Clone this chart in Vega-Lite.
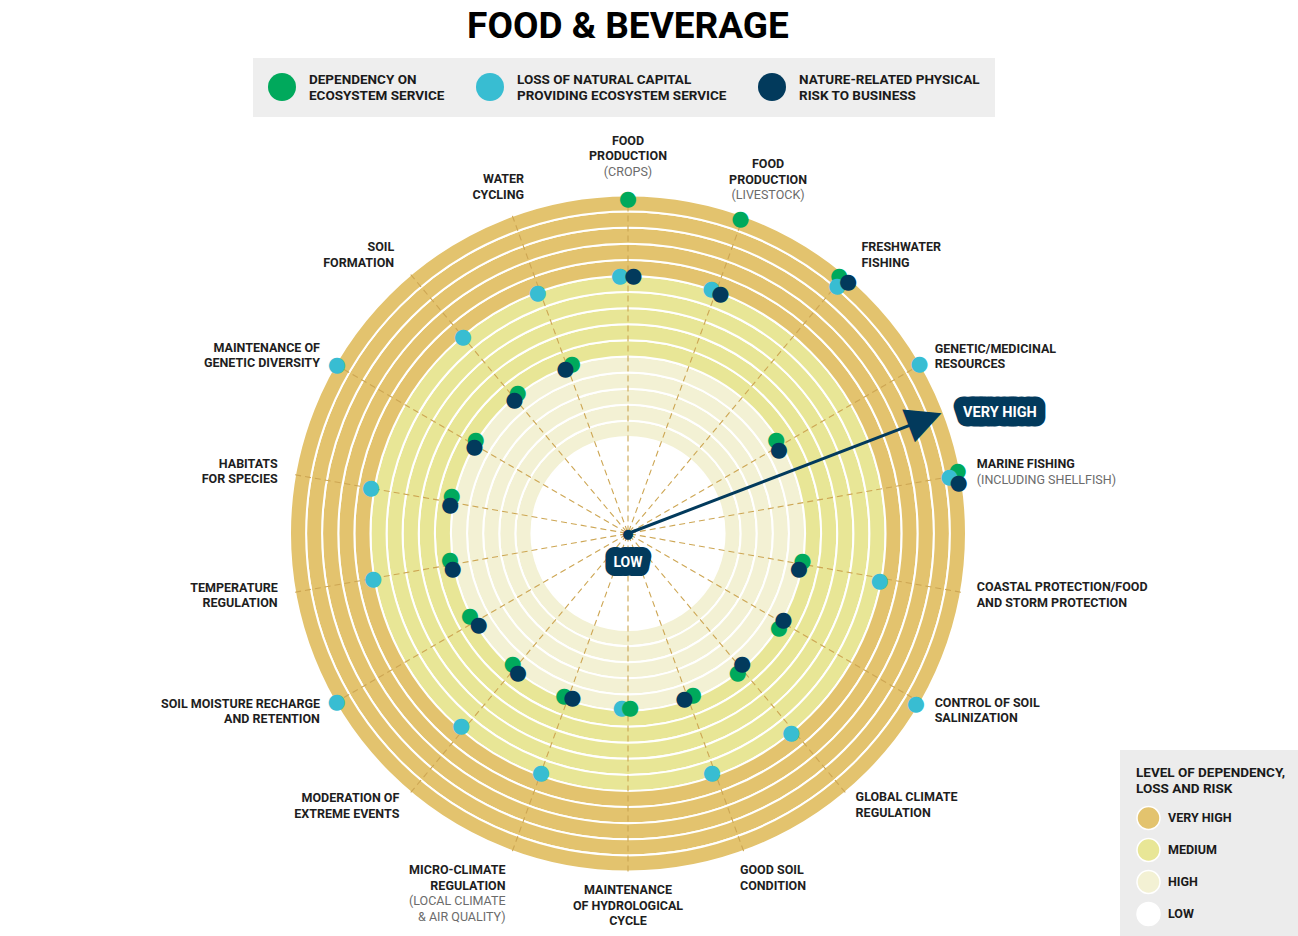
{
  "$schema": "https://vega.github.io/schema/vega-lite/v6.json",
  "width": 1256,
  "height": 807,
  "autosize": {"type": "none"},
  "padding": {"left": 0, "top": 130, "right": 42, "bottom": 0},
  "background": "white",
  "title": {"text": "FOOD & BEVERAGE", "font": "Roboto", "fontSize": 37, "fontWeight": "bold", "color": "#000000", "anchor": "middle", "frame": "group", "baseline": "alphabetic", "offset": -17},
  "config": {"view": {"stroke": null}},
  "datasets": {
    "rings": [
      {"level": "LOW", "inner": 0, "outer": 6},
      {"level": "HIGH", "inner": 6, "outer": 7},
      {"level": "HIGH", "inner": 7, "outer": 8},
      {"level": "HIGH", "inner": 8, "outer": 9},
      {"level": "HIGH", "inner": 9, "outer": 10},
      {"level": "HIGH", "inner": 10, "outer": 11},
      {"level": "MEDIUM", "inner": 11, "outer": 12},
      {"level": "MEDIUM", "inner": 12, "outer": 13},
      {"level": "MEDIUM", "inner": 13, "outer": 14},
      {"level": "MEDIUM", "inner": 14, "outer": 15},
      {"level": "MEDIUM", "inner": 15, "outer": 16},
      {"level": "VERY HIGH", "inner": 16, "outer": 17},
      {"level": "VERY HIGH", "inner": 17, "outer": 18},
      {"level": "VERY HIGH", "inner": 18, "outer": 19},
      {"level": "VERY HIGH", "inner": 19, "outer": 20},
      {"level": "VERY HIGH", "inner": 20, "outer": 21}
    ],
    "services": [
      {"service": "FOOD PRODUCTION (CROPS)", "angle": 0, "bold": "FOOD\nPRODUCTION", "sub": "(CROPS)"},
      {"service": "FOOD PRODUCTION (LIVESTOCK)", "angle": 20, "bold": "FOOD\nPRODUCTION", "sub": "(LIVESTOCK)"},
      {"service": "FRESHWATER FISHING", "angle": 40, "bold": "FRESHWATER\nFISHING", "sub": ""},
      {"service": "GENETIC/MEDICINAL RESOURCES", "angle": 60, "bold": "GENETIC/MEDICINAL\nRESOURCES", "sub": ""},
      {"service": "MARINE FISHING (INCLUDING SHELLFISH)", "angle": 80, "bold": "MARINE FISHING", "sub": "(INCLUDING SHELLFISH)"},
      {"service": "COASTAL PROTECTION/FOOD AND STORM PROTECTION", "angle": 100, "bold": "COASTAL PROTECTION/FOOD\nAND STORM PROTECTION", "sub": ""},
      {"service": "CONTROL OF SOIL SALINIZATION", "angle": 120, "bold": "CONTROL OF SOIL\nSALINIZATION", "sub": ""},
      {"service": "GLOBAL CLIMATE REGULATION", "angle": 140, "bold": "GLOBAL CLIMATE\nREGULATION", "sub": ""},
      {"service": "GOOD SOIL CONDITION", "angle": 160, "bold": "GOOD SOIL\nCONDITION", "sub": ""},
      {"service": "MAINTENANCE OF HYDROLOGICAL CYCLE", "angle": 180, "bold": "MAINTENANCE\nOF HYDROLOGICAL\nCYCLE", "sub": ""},
      {"service": "MICRO-CLIMATE REGULATION (LOCAL CLIMATE & AIR QUALITY)", "angle": 200, "bold": "MICRO-CLIMATE\nREGULATION", "sub": "(LOCAL CLIMATE\n& AIR QUALITY)"},
      {"service": "MODERATION OF EXTREME EVENTS", "angle": 220, "bold": "MODERATION OF\nEXTREME EVENTS", "sub": ""},
      {"service": "SOIL MOISTURE RECHARGE AND RETENTION", "angle": 240, "bold": "SOIL MOISTURE RECHARGE\nAND RETENTION", "sub": ""},
      {"service": "TEMPERATURE REGULATION", "angle": 260, "bold": "TEMPERATURE\nREGULATION", "sub": ""},
      {"service": "HABITATS FOR SPECIES", "angle": 280, "bold": "HABITATS\nFOR SPECIES", "sub": ""},
      {"service": "MAINTENANCE OF GENETIC DIVERSITY", "angle": 300, "bold": "MAINTENANCE OF\nGENETIC DIVERSITY", "sub": ""},
      {"service": "SOIL FORMATION", "angle": 320, "bold": "SOIL\nFORMATION", "sub": ""},
      {"service": "WATER CYCLING", "angle": 340, "bold": "WATER\nCYCLING", "sub": ""}
    ],
    "dots": [
      {"service": "FOOD PRODUCTION (CROPS)", "series": "DEPENDENCY ON ECOSYSTEM SERVICE", "angle": 0, "level": 20.81},
      {"service": "FOOD PRODUCTION (CROPS)", "series": "LOSS OF NATURAL CAPITAL PROVIDING ECOSYSTEM SERVICE", "angle": 358.2, "level": 16.03},
      {"service": "FOOD PRODUCTION (CROPS)", "series": "NATURE-RELATED PHYSICAL RISK TO BUSINESS", "angle": 1.2, "level": 16.03},
      {"service": "FOOD PRODUCTION (LIVESTOCK)", "series": "DEPENDENCY ON ECOSYSTEM SERVICE", "angle": 19.7, "level": 20.73},
      {"service": "FOOD PRODUCTION (LIVESTOCK)", "series": "LOSS OF NATURAL CAPITAL PROVIDING ECOSYSTEM SERVICE", "angle": 18.8, "level": 16.06},
      {"service": "FOOD PRODUCTION (LIVESTOCK)", "series": "NATURE-RELATED PHYSICAL RISK TO BUSINESS", "angle": 21.1, "level": 15.96},
      {"service": "FRESHWATER FISHING", "series": "DEPENDENCY ON ECOSYSTEM SERVICE", "angle": 39.3, "level": 20.71},
      {"service": "FRESHWATER FISHING", "series": "LOSS OF NATURAL CAPITAL PROVIDING ECOSYSTEM SERVICE", "angle": 40.2, "level": 20.13},
      {"service": "FRESHWATER FISHING", "series": "NATURE-RELATED PHYSICAL RISK TO BUSINESS", "angle": 41.2, "level": 20.77},
      {"service": "GENETIC/MEDICINAL RESOURCES", "series": "DEPENDENCY ON ECOSYSTEM SERVICE", "angle": 57.7, "level": 10.89},
      {"service": "GENETIC/MEDICINAL RESOURCES", "series": "LOSS OF NATURAL CAPITAL PROVIDING ECOSYSTEM SERVICE", "angle": 59.8, "level": 20.94},
      {"service": "GENETIC/MEDICINAL RESOURCES", "series": "NATURE-RELATED PHYSICAL RISK TO BUSINESS", "angle": 61, "level": 10.72},
      {"service": "MARINE FISHING (INCLUDING SHELLFISH)", "series": "DEPENDENCY ON ECOSYSTEM SERVICE", "angle": 79.2, "level": 20.85},
      {"service": "MARINE FISHING (INCLUDING SHELLFISH)", "series": "LOSS OF NATURAL CAPITAL PROVIDING ECOSYSTEM SERVICE", "angle": 80.1, "level": 20.27},
      {"service": "MARINE FISHING (INCLUDING SHELLFISH)", "series": "NATURE-RELATED PHYSICAL RISK TO BUSINESS", "angle": 81.3, "level": 20.79},
      {"service": "COASTAL PROTECTION/FOOD AND STORM PROTECTION", "series": "DEPENDENCY ON ECOSYSTEM SERVICE", "angle": 99, "level": 10.97},
      {"service": "COASTAL PROTECTION/FOOD AND STORM PROTECTION", "series": "LOSS OF NATURAL CAPITAL PROVIDING ECOSYSTEM SERVICE", "angle": 100.6, "level": 15.91},
      {"service": "COASTAL PROTECTION/FOOD AND STORM PROTECTION", "series": "NATURE-RELATED PHYSICAL RISK TO BUSINESS", "angle": 101.6, "level": 10.84},
      {"service": "CONTROL OF SOIL SALINIZATION", "series": "DEPENDENCY ON ECOSYSTEM SERVICE", "angle": 122, "level": 11.05},
      {"service": "CONTROL OF SOIL SALINIZATION", "series": "LOSS OF NATURAL CAPITAL PROVIDING ECOSYSTEM SERVICE", "angle": 120.6, "level": 20.78},
      {"service": "CONTROL OF SOIL SALINIZATION", "series": "NATURE-RELATED PHYSICAL RISK TO BUSINESS", "angle": 119, "level": 11.04},
      {"service": "GLOBAL CLIMATE REGULATION", "series": "DEPENDENCY ON ECOSYSTEM SERVICE", "angle": 141.8, "level": 11.02},
      {"service": "GLOBAL CLIMATE REGULATION", "series": "LOSS OF NATURAL CAPITAL PROVIDING ECOSYSTEM SERVICE", "angle": 140.8, "level": 16.03},
      {"service": "GLOBAL CLIMATE REGULATION", "series": "NATURE-RELATED PHYSICAL RISK TO BUSINESS", "angle": 138.9, "level": 10.8},
      {"service": "GOOD SOIL CONDITION", "series": "DEPENDENCY ON ECOSYSTEM SERVICE", "angle": 158.1, "level": 10.8},
      {"service": "GOOD SOIL CONDITION", "series": "LOSS OF NATURAL CAPITAL PROVIDING ECOSYSTEM SERVICE", "angle": 160.7, "level": 15.78},
      {"service": "GOOD SOIL CONDITION", "series": "NATURE-RELATED PHYSICAL RISK TO BUSINESS", "angle": 161.2, "level": 10.87},
      {"service": "MAINTENANCE OF HYDROLOGICAL CYCLE", "series": "LOSS OF NATURAL CAPITAL PROVIDING ECOSYSTEM SERVICE", "angle": 182.1, "level": 10.87},
      {"service": "MAINTENANCE OF HYDROLOGICAL CYCLE", "series": "DEPENDENCY ON ECOSYSTEM SERVICE", "angle": 179.3, "level": 10.87},
      {"service": "MICRO-CLIMATE REGULATION (LOCAL CLIMATE & AIR QUALITY)", "series": "DEPENDENCY ON ECOSYSTEM SERVICE", "angle": 201.4, "level": 10.87},
      {"service": "MICRO-CLIMATE REGULATION (LOCAL CLIMATE & AIR QUALITY)", "series": "LOSS OF NATURAL CAPITAL PROVIDING ECOSYSTEM SERVICE", "angle": 200, "level": 15.84},
      {"service": "MICRO-CLIMATE REGULATION (LOCAL CLIMATE & AIR QUALITY)", "series": "NATURE-RELATED PHYSICAL RISK TO BUSINESS", "angle": 198.7, "level": 10.78},
      {"service": "MODERATION OF EXTREME EVENTS", "series": "DEPENDENCY ON ECOSYSTEM SERVICE", "angle": 221.4, "level": 10.84},
      {"service": "MODERATION OF EXTREME EVENTS", "series": "LOSS OF NATURAL CAPITAL PROVIDING ECOSYSTEM SERVICE", "angle": 220.9, "level": 15.84},
      {"service": "MODERATION OF EXTREME EVENTS", "series": "NATURE-RELATED PHYSICAL RISK TO BUSINESS", "angle": 218.4, "level": 11.02},
      {"service": "SOIL MOISTURE RECHARGE AND RETENTION", "series": "DEPENDENCY ON ECOSYSTEM SERVICE", "angle": 242.3, "level": 11.09},
      {"service": "SOIL MOISTURE RECHARGE AND RETENTION", "series": "LOSS OF NATURAL CAPITAL PROVIDING ECOSYSTEM SERVICE", "angle": 240, "level": 20.91},
      {"service": "SOIL MOISTURE RECHARGE AND RETENTION", "series": "NATURE-RELATED PHYSICAL RISK TO BUSINESS", "angle": 238.6, "level": 10.87},
      {"service": "TEMPERATURE REGULATION", "series": "DEPENDENCY ON ECOSYSTEM SERVICE", "angle": 261.6, "level": 11.18},
      {"service": "TEMPERATURE REGULATION", "series": "LOSS OF NATURAL CAPITAL PROVIDING ECOSYSTEM SERVICE", "angle": 259.8, "level": 16.09},
      {"service": "TEMPERATURE REGULATION", "series": "NATURE-RELATED PHYSICAL RISK TO BUSINESS", "angle": 258.6, "level": 11.11},
      {"service": "HABITATS FOR SPECIES", "series": "DEPENDENCY ON ECOSYSTEM SERVICE", "angle": 282, "level": 11.2},
      {"service": "HABITATS FOR SPECIES", "series": "LOSS OF NATURAL CAPITAL PROVIDING ECOSYSTEM SERVICE", "angle": 280.1, "level": 16.22},
      {"service": "HABITATS FOR SPECIES", "series": "NATURE-RELATED PHYSICAL RISK TO BUSINESS", "angle": 279.2, "level": 11.2},
      {"service": "MAINTENANCE OF GENETIC DIVERSITY", "series": "DEPENDENCY ON ECOSYSTEM SERVICE", "angle": 301.6, "level": 11.11},
      {"service": "MAINTENANCE OF GENETIC DIVERSITY", "series": "LOSS OF NATURAL CAPITAL PROVIDING ECOSYSTEM SERVICE", "angle": 300, "level": 20.88},
      {"service": "MAINTENANCE OF GENETIC DIVERSITY", "series": "NATURE-RELATED PHYSICAL RISK TO BUSINESS", "angle": 299.3, "level": 10.95},
      {"service": "SOIL FORMATION", "series": "DEPENDENCY ON ECOSYSTEM SERVICE", "angle": 321.8, "level": 11.09},
      {"service": "SOIL FORMATION", "series": "LOSS OF NATURAL CAPITAL PROVIDING ECOSYSTEM SERVICE", "angle": 319.9, "level": 15.93},
      {"service": "SOIL FORMATION", "series": "NATURE-RELATED PHYSICAL RISK TO BUSINESS", "angle": 319.5, "level": 10.87},
      {"service": "WATER CYCLING", "series": "DEPENDENCY ON ECOSYSTEM SERVICE", "angle": 341.7, "level": 11.1},
      {"service": "WATER CYCLING", "series": "LOSS OF NATURAL CAPITAL PROVIDING ECOSYSTEM SERVICE", "angle": 339.4, "level": 15.97},
      {"service": "WATER CYCLING", "series": "NATURE-RELATED PHYSICAL RISK TO BUSINESS", "angle": 339.2, "level": 10.95}
    ]
  },
  "layer": [
    {
      "data": {"name": "rings"},
      "mark": {"type": "arc", "theta": 0, "theta2": 6.283185307179586, "stroke": "#ffffff", "strokeWidth": 2},
      "encoding": {
        "radius": {"field": "outer", "type": "quantitative", "scale": {"type": "linear", "domain": [0, 21], "range": [0, 338]}},
        "radius2": {"field": "inner"},
        "fill": {
          "field": "level", "type": "nominal",
          "scale": {"domain": ["VERY HIGH", "MEDIUM", "HIGH", "LOW"], "range": ["#E3C36E", "#E8E696", "#F3F1D4", "#FFFFFF"]},
          "legend": {"orient": "none", "legendX": 1120, "legendY": 620, "title": ["LEVEL OF DEPENDENCY,", "LOSS AND RISK"], "titleFont": "Roboto", "titleFontSize": 13.5, "titleFontWeight": "bold", "titleColor": "#1a1a1a", "titleLineHeight": 16, "titlePadding": 10, "titleLimit": 300, "symbolType": "circle", "symbolSize": 529, "symbolStrokeColor": "#ffffff", "symbolStrokeWidth": 1.5, "symbolOpacity": 1, "labelFont": "Roboto", "labelFontSize": 12.5, "labelFontWeight": "bold", "labelColor": "#1a1a1a", "labelOffset": 7, "rowPadding": 3, "padding": 16, "fillColor": "#ececec"}
        }
      }
    },
    {
      "data": {"name": "services"},
      "mark": {"type": "arc", "stroke": "#CDA653", "strokeWidth": 1.1, "strokeDash": [6, 4], "fillOpacity": 0},
      "encoding": {
        "theta": {"field": "angle", "type": "quantitative", "stack": null, "scale": {"type": "linear", "domain": [0, 360], "range": [0, 6.283185307179586]}},
        "theta2": {"field": "angle"},
        "radius": {"datum": 21, "type": "quantitative", "scale": {"type": "linear", "domain": [0, 21], "range": [0, 338]}},
        "radius2": {"datum": 0}
      }
    },
    {
      "data": {"values": [{"item": "arrow"}]},
      "mark": {"type": "arc", "stroke": "#023A5C", "strokeWidth": 3, "fillOpacity": 0},
      "encoding": {
        "theta": {"datum": 69, "type": "quantitative", "stack": null, "scale": {"type": "linear", "domain": [0, 360], "range": [0, 6.283185307179586]}},
        "theta2": {"datum": 69},
        "radius": {"datum": 19, "type": "quantitative", "scale": {"type": "linear", "domain": [0, 21], "range": [0, 338]}},
        "radius2": {"datum": 0}
      }
    },
    {
      "data": {"values": [{"glyph": "▲"}]},
      "mark": {"type": "text", "font": "DejaVu Sans", "fontSize": 46, "angle": 69, "align": "center", "baseline": "middle", "fill": "#023A5C"},
      "encoding": {
        "text": {"field": "glyph"},
        "theta": {"datum": 69, "type": "quantitative", "stack": null, "scale": {"type": "linear", "domain": [0, 360], "range": [0, 6.283185307179586]}},
        "radius": {"datum": 19.9, "type": "quantitative", "scale": {"type": "linear", "domain": [0, 21], "range": [0, 338]}}
      }
    },
    {
      "data": {"values": [{"glyph": "●"}]},
      "mark": {"type": "text", "font": "DejaVu Sans", "fontSize": 13, "align": "center", "baseline": "middle", "fill": "#023A5C"},
      "encoding": {
        "text": {"field": "glyph"},
        "theta": {"datum": 0, "type": "quantitative", "stack": null, "scale": {"type": "linear", "domain": [0, 360], "range": [0, 6.283185307179586]}},
        "radius": {"datum": 0, "type": "quantitative", "scale": {"type": "linear", "domain": [0, 21], "range": [0, 338]}}
      }
    },
    {
      "data": {"name": "dots"},
      "mark": {"type": "text", "text": "●", "font": "DejaVu Sans", "fontSize": 21, "align": "center", "baseline": "middle"},
      "encoding": {
        "theta": {"field": "angle", "type": "quantitative", "stack": null, "scale": {"type": "linear", "domain": [0, 360], "range": [0, 6.283185307179586]}},
        "radius": {"field": "level", "type": "quantitative", "scale": {"type": "linear", "domain": [0, 21], "range": [0, 338]}},
        "color": {
          "field": "series", "type": "nominal",
          "scale": {"domain": ["DEPENDENCY ON ECOSYSTEM SERVICE", "LOSS OF NATURAL CAPITAL PROVIDING ECOSYSTEM SERVICE", "NATURE-RELATED PHYSICAL RISK TO BUSINESS"], "range": ["#00A95C", "#38BDD2", "#023A5C"]},
          "legend": {"orient": "none", "legendX": 253, "legendY": -72, "direction": "horizontal", "title": null, "symbolType": "circle", "symbolSize": 784, "symbolStrokeWidth": 0, "symbolOpacity": 1, "labelFont": "Roboto", "labelFontSize": 13.5, "labelFontWeight": "bold", "labelColor": "#1a1a1a", "labelLimit": 300, "labelOffset": 13, "labelBaseline": "bottom", "columnPadding": 31, "padding": 15, "fillColor": "#eeeeee",
            "labelExpr": "datum.label == 'DEPENDENCY ON ECOSYSTEM SERVICE' ? ['DEPENDENCY ON', 'ECOSYSTEM SERVICE'] : datum.label == 'LOSS OF NATURAL CAPITAL PROVIDING ECOSYSTEM SERVICE' ? ['LOSS OF NATURAL CAPITAL', 'PROVIDING ECOSYSTEM SERVICE'] : ['NATURE-RELATED PHYSICAL', 'RISK TO BUSINESS']"}
        }
      }
    },
    {
      "data": {"name": "services"},
      "transform": [{"filter": "datum.angle >= 60 && datum.angle <= 140"}],
      "mark": {"type": "text", "font": "Roboto", "fontSize": 12.5, "fontWeight": "bold", "fill": "#1e1e1e", "lineBreak": "\n", "lineHeight": 15.5, "align": "left", "baseline": "middle", "dy": -7.75},
      "encoding": {
        "text": {"field": "bold", "type": "nominal"},
        "theta": {"field": "angle", "type": "quantitative", "stack": null, "scale": {"type": "linear", "domain": [0, 360], "range": [0, 6.283185307179586]}},
        "radius": {"datum": 22.0, "type": "quantitative", "scale": {"type": "linear", "domain": [0, 21], "range": [0, 338]}}
      }
    },
    {
      "data": {"name": "services"},
      "transform": [{"filter": "datum.angle >= 60 && datum.angle <= 140 && datum.sub != ''"}],
      "mark": {"type": "text", "font": "Roboto", "fontSize": 12.5, "fontWeight": "normal", "fill": "#6b6b6b", "lineBreak": "\n", "lineHeight": 15.5, "align": "left", "baseline": "middle", "dy": 7.75},
      "encoding": {
        "text": {"field": "sub", "type": "nominal"},
        "theta": {"field": "angle", "type": "quantitative", "stack": null, "scale": {"type": "linear", "domain": [0, 360], "range": [0, 6.283185307179586]}},
        "radius": {"datum": 22.0, "type": "quantitative", "scale": {"type": "linear", "domain": [0, 21], "range": [0, 338]}}
      }
    },
    {
      "data": {"name": "services"},
      "transform": [{"filter": "datum.angle == 40"}],
      "mark": {"type": "text", "font": "Roboto", "fontSize": 12.5, "fontWeight": "bold", "fill": "#1e1e1e", "lineBreak": "\n", "lineHeight": 15.5, "align": "left", "baseline": "middle", "dy": -7.75},
      "encoding": {
        "text": {"field": "bold", "type": "nominal"},
        "theta": {"field": "angle", "type": "quantitative", "stack": null, "scale": {"type": "linear", "domain": [0, 360], "range": [0, 6.283185307179586]}},
        "radius": {"datum": 22.57, "type": "quantitative", "scale": {"type": "linear", "domain": [0, 21], "range": [0, 338]}}
      }
    },
    {
      "data": {"name": "services"},
      "transform": [{"filter": "datum.angle >= 220 && datum.angle <= 300"}],
      "mark": {"type": "text", "font": "Roboto", "fontSize": 12.5, "fontWeight": "bold", "fill": "#1e1e1e", "lineBreak": "\n", "lineHeight": 15.5, "align": "right", "baseline": "middle", "dy": -7.75},
      "encoding": {
        "text": {"field": "bold", "type": "nominal"},
        "theta": {"field": "angle", "type": "quantitative", "stack": null, "scale": {"type": "linear", "domain": [0, 360], "range": [0, 6.283185307179586]}},
        "radius": {"datum": 22.1, "type": "quantitative", "scale": {"type": "linear", "domain": [0, 21], "range": [0, 338]}}
      }
    },
    {
      "data": {"name": "services"},
      "transform": [{"filter": "datum.angle == 320"}],
      "mark": {"type": "text", "font": "Roboto", "fontSize": 12.5, "fontWeight": "bold", "fill": "#1e1e1e", "lineBreak": "\n", "lineHeight": 15.5, "align": "right", "baseline": "middle", "dy": -7.75},
      "encoding": {
        "text": {"field": "bold", "type": "nominal"},
        "theta": {"field": "angle", "type": "quantitative", "stack": null, "scale": {"type": "linear", "domain": [0, 360], "range": [0, 6.283185307179586]}},
        "radius": {"datum": 22.6, "type": "quantitative", "scale": {"type": "linear", "domain": [0, 21], "range": [0, 338]}}
      }
    },
    {
      "data": {"name": "services"},
      "transform": [{"filter": "datum.angle == 0"}],
      "mark": {"type": "text", "font": "Roboto", "fontSize": 12.5, "fontWeight": "bold", "fill": "#1e1e1e", "lineBreak": "\n", "lineHeight": 15.5, "align": "center", "baseline": "middle"},
      "encoding": {
        "text": {"field": "bold", "type": "nominal"},
        "theta": {"field": "angle", "type": "quantitative", "stack": null, "scale": {"type": "linear", "domain": [0, 360], "range": [0, 6.283185307179586]}},
        "radius": {"datum": 24.39, "type": "quantitative", "scale": {"type": "linear", "domain": [0, 21], "range": [0, 338]}}
      }
    },
    {
      "data": {"name": "services"},
      "transform": [{"filter": "datum.angle == 0"}],
      "mark": {"type": "text", "font": "Roboto", "fontSize": 12.5, "fontWeight": "normal", "fill": "#6b6b6b", "lineBreak": "\n", "lineHeight": 15.5, "align": "center", "baseline": "middle", "dy": 31},
      "encoding": {
        "text": {"field": "sub", "type": "nominal"},
        "theta": {"field": "angle", "type": "quantitative", "stack": null, "scale": {"type": "linear", "domain": [0, 360], "range": [0, 6.283185307179586]}},
        "radius": {"datum": 24.39, "type": "quantitative", "scale": {"type": "linear", "domain": [0, 21], "range": [0, 338]}}
      }
    },
    {
      "data": {"name": "services"},
      "transform": [{"filter": "datum.angle == 20"}],
      "mark": {"type": "text", "font": "Roboto", "fontSize": 12.5, "fontWeight": "bold", "fill": "#1e1e1e", "lineBreak": "\n", "lineHeight": 15.5, "align": "center", "baseline": "middle", "dx": 5.6},
      "encoding": {
        "text": {"field": "bold", "type": "nominal"},
        "theta": {"field": "angle", "type": "quantitative", "stack": null, "scale": {"type": "linear", "domain": [0, 360], "range": [0, 6.283185307179586]}},
        "radius": {"datum": 24.42, "type": "quantitative", "scale": {"type": "linear", "domain": [0, 21], "range": [0, 338]}}
      }
    },
    {
      "data": {"name": "services"},
      "transform": [{"filter": "datum.angle == 20"}],
      "mark": {"type": "text", "font": "Roboto", "fontSize": 12.5, "fontWeight": "normal", "fill": "#6b6b6b", "lineBreak": "\n", "lineHeight": 15.5, "align": "center", "baseline": "middle", "dx": 5.6, "dy": 31},
      "encoding": {
        "text": {"field": "sub", "type": "nominal"},
        "theta": {"field": "angle", "type": "quantitative", "stack": null, "scale": {"type": "linear", "domain": [0, 360], "range": [0, 6.283185307179586]}},
        "radius": {"datum": 24.42, "type": "quantitative", "scale": {"type": "linear", "domain": [0, 21], "range": [0, 338]}}
      }
    },
    {
      "data": {"name": "services"},
      "transform": [{"filter": "datum.angle == 340"}],
      "mark": {"type": "text", "font": "Roboto", "fontSize": 12.5, "fontWeight": "bold", "fill": "#1e1e1e", "lineBreak": "\n", "lineHeight": 15.5, "align": "right", "baseline": "middle", "dx": 25},
      "encoding": {
        "text": {"field": "bold", "type": "nominal"},
        "theta": {"field": "angle", "type": "quantitative", "stack": null, "scale": {"type": "linear", "domain": [0, 360], "range": [0, 6.283185307179586]}},
        "radius": {"datum": 23.42, "type": "quantitative", "scale": {"type": "linear", "domain": [0, 21], "range": [0, 338]}}
      }
    },
    {
      "data": {"name": "services"},
      "transform": [{"filter": "datum.angle == 160"}],
      "mark": {"type": "text", "font": "Roboto", "fontSize": 12.5, "fontWeight": "bold", "fill": "#1e1e1e", "lineBreak": "\n", "lineHeight": 15.5, "align": "left", "baseline": "middle", "dx": -10.5},
      "encoding": {
        "text": {"field": "bold", "type": "nominal"},
        "theta": {"field": "angle", "type": "quantitative", "stack": null, "scale": {"type": "linear", "domain": [0, 360], "range": [0, 6.283185307179586]}},
        "radius": {"datum": 22.25, "type": "quantitative", "scale": {"type": "linear", "domain": [0, 21], "range": [0, 338]}}
      }
    },
    {
      "data": {"name": "services"},
      "transform": [{"filter": "datum.angle == 180"}],
      "mark": {"type": "text", "font": "Roboto", "fontSize": 12.5, "fontWeight": "bold", "fill": "#1e1e1e", "lineBreak": "\n", "lineHeight": 15.5, "align": "center", "baseline": "middle"},
      "encoding": {
        "text": {"field": "bold", "type": "nominal"},
        "theta": {"field": "angle", "type": "quantitative", "stack": null, "scale": {"type": "linear", "domain": [0, 360], "range": [0, 6.283185307179586]}},
        "radius": {"datum": 22.15, "type": "quantitative", "scale": {"type": "linear", "domain": [0, 21], "range": [0, 338]}}
      }
    },
    {
      "data": {"name": "services"},
      "transform": [{"filter": "datum.angle == 200"}],
      "mark": {"type": "text", "font": "Roboto", "fontSize": 12.5, "fontWeight": "bold", "fill": "#1e1e1e", "lineBreak": "\n", "lineHeight": 15.5, "align": "right", "baseline": "middle"},
      "encoding": {
        "text": {"field": "bold", "type": "nominal"},
        "theta": {"field": "angle", "type": "quantitative", "stack": null, "scale": {"type": "linear", "domain": [0, 360], "range": [0, 6.283185307179586]}},
        "radius": {"datum": 22.25, "type": "quantitative", "scale": {"type": "linear", "domain": [0, 21], "range": [0, 338]}}
      }
    },
    {
      "data": {"name": "services"},
      "transform": [{"filter": "datum.angle == 200"}],
      "mark": {"type": "text", "font": "Roboto", "fontSize": 12.5, "fontWeight": "normal", "fill": "#6b6b6b", "lineBreak": "\n", "lineHeight": 15.5, "align": "right", "baseline": "middle", "dy": 31},
      "encoding": {
        "text": {"field": "sub", "type": "nominal"},
        "theta": {"field": "angle", "type": "quantitative", "stack": null, "scale": {"type": "linear", "domain": [0, 360], "range": [0, 6.283185307179586]}},
        "radius": {"datum": 22.25, "type": "quantitative", "scale": {"type": "linear", "domain": [0, 21], "range": [0, 338]}}
      }
    },
    {
      "data": {"values": [{"tag": "VERY HIGH"}]},
      "mark": {"type": "text", "font": "Roboto", "fontSize": 14.5, "fontWeight": "bold", "fill": "#023A5C", "stroke": "#023A5C", "strokeWidth": 19, "strokeJoin": "round", "align": "center", "baseline": "middle"},
      "encoding": {
        "text": {"field": "tag", "type": "nominal"},
        "theta": {"datum": 72, "type": "quantitative", "stack": null, "scale": {"type": "linear", "domain": [0, 360], "range": [0, 6.283185307179586]}},
        "radius": {"datum": 24.3, "type": "quantitative", "scale": {"type": "linear", "domain": [0, 21], "range": [0, 338]}}
      }
    },
    {
      "data": {"values": [{"tag": "VERY HIGH"}]},
      "mark": {"type": "text", "font": "Roboto", "fontSize": 14.5, "fontWeight": "bold", "fill": "#ffffff", "align": "center", "baseline": "middle"},
      "encoding": {
        "text": {"field": "tag", "type": "nominal"},
        "theta": {"datum": 72, "type": "quantitative", "stack": null, "scale": {"type": "linear", "domain": [0, 360], "range": [0, 6.283185307179586]}},
        "radius": {"datum": 24.3, "type": "quantitative", "scale": {"type": "linear", "domain": [0, 21], "range": [0, 338]}}
      }
    },
    {
      "data": {"values": [{"tag": "LOW"}]},
      "mark": {"type": "text", "font": "Roboto", "fontSize": 14, "fontWeight": "bold", "fill": "#023A5C", "stroke": "#023A5C", "strokeWidth": 18, "strokeJoin": "round", "align": "center", "baseline": "middle"},
      "encoding": {
        "text": {"field": "tag", "type": "nominal"},
        "theta": {"datum": 180, "type": "quantitative", "stack": null, "scale": {"type": "linear", "domain": [0, 360], "range": [0, 6.283185307179586]}},
        "radius": {"datum": 1.85, "type": "quantitative", "scale": {"type": "linear", "domain": [0, 21], "range": [0, 338]}}
      }
    },
    {
      "data": {"values": [{"tag": "LOW"}]},
      "mark": {"type": "text", "font": "Roboto", "fontSize": 14, "fontWeight": "bold", "fill": "#ffffff", "align": "center", "baseline": "middle"},
      "encoding": {
        "text": {"field": "tag", "type": "nominal"},
        "theta": {"datum": 180, "type": "quantitative", "stack": null, "scale": {"type": "linear", "domain": [0, 360], "range": [0, 6.283185307179586]}},
        "radius": {"datum": 1.85, "type": "quantitative", "scale": {"type": "linear", "domain": [0, 21], "range": [0, 338]}}
      }
    }
  ]
}
